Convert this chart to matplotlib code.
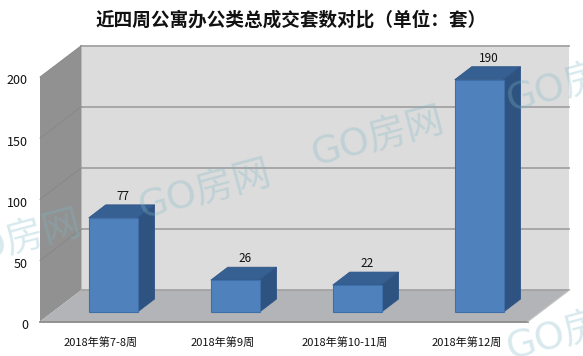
import matplotlib
matplotlib.use("Agg")
import matplotlib.pyplot as plt
from matplotlib.transforms import ScaledTranslation

plt.rcParams['font.family'] = ['Noto Sans CJK SC', 'DejaVu Sans']

title = '近四周公寓办公类总成交套数对比（单位：套）'
categories = ['2018年第7-8周', '2018年第9周', '2018年第10-11周', '2018年第12周']
values = [77, 26, 22, 190]
yticks = [0, 50, 100, 150, 200]

# oblique depth of the box and of the bars, in data units (category, value)
wall_dx, wall_dy = 0.34, 25.76
bar_dx, bar_dy = 0.139, 10.6
bar_shift_x, bar_shift_y = 0.1, 7.8
bar_width = 0.40

fig = plt.figure(figsize=(5.83, 3.56), dpi=100)
ax = fig.add_axes([40/583, (356-321.5)/356, 488/583, 244.5/356])
ax.set_xlim(0, len(categories))
ax.set_ylim(0, yticks[-1])
for s in ax.spines.values():
    s.set_visible(False)

xmax = len(categories)
ymax = yticks[-1]

# box: back wall, side wall, floor
ax.fill([wall_dx, xmax+wall_dx, xmax+wall_dx, wall_dx],
        [wall_dy, wall_dy, ymax+wall_dy, ymax+wall_dy],
        color='#dcdcdc', lw=0, clip_on=False, zorder=1)
ax.fill([0, wall_dx, wall_dx, 0], [0, wall_dy, ymax+wall_dy, ymax],
        color='#919191', lw=0, clip_on=False, zorder=1)
ax.fill([0, xmax, xmax+wall_dx, wall_dx], [0, 0, wall_dy, wall_dy],
        color='#b2b4b8', lw=0, clip_on=False, zorder=1)

# grid lines on the walls
for t in yticks:
    ax.plot([wall_dx, xmax+wall_dx], [t+wall_dy, t+wall_dy], color='#a3a3a3',
            lw=1.3, clip_on=False, zorder=2)
    if t > 0:
        ax.plot([0, wall_dx], [t, t+wall_dy], color='#868686', lw=0.6,
                clip_on=False, zorder=2)
ax.plot([0, xmax], [0, 0], color='#8a8a8a', lw=1.3, clip_on=False, zorder=2)
ax.plot([xmax, xmax+wall_dx], [0, wall_dy], color='#c4c4c4', lw=0.8,
        clip_on=False, zorder=2)

# bars
for i, v in enumerate(values):
    x0 = i + 0.5 + bar_shift_x - bar_width/2
    x1 = x0 + bar_width
    y0 = bar_shift_y
    y1 = y0 + v
    ax.fill([x0, x1, x1+bar_dx, x0+bar_dx], [y1, y1, y1+bar_dy, y1+bar_dy],
            fc='#376092', ec='#2f5688', lw=0.6, clip_on=False, zorder=3)
    ax.fill([x1, x1+bar_dx, x1+bar_dx, x1], [y0, y0+bar_dy, y1+bar_dy, y1],
            fc='#2f5380', ec='#2f5688', lw=0.6, clip_on=False, zorder=3)
    ax.fill([x0, x1, x1, x0], [y0, y0, y1, y1],
            fc='#4f81bd', ec='#3f6fa8', lw=0.8, clip_on=False, zorder=4)
    ax.text((x0+x1+bar_dx)/2+0.008, y1+bar_dy+1.7, str(v), ha='center', va='bottom',
            fontsize=8.5, color='#111111', zorder=5)

ax.set_xticks([i+0.5 for i in range(len(categories))], categories)
ax.set_yticks(yticks)
ax.tick_params(axis='both', length=0, labelsize=8, colors='#111111')
ax.tick_params(axis='y', pad=8.7, labelsize=9)
ax.tick_params(axis='x', pad=11)

# the y labels sit a little lower than the grid
down = ScaledTranslation(0, -2.5/100, fig.dpi_scale_trans)
for lab in ax.get_yticklabels():
    lab.set_transform(lab.get_transform() + down)

fig.text(291.5/583, 1-20/356, title, ha='center', va='center', fontsize=13.4,
         fontweight='bold', color='#111111')

# watermarks
for wx, wy in [(378, 137), (205, 190), (15, 240), (573, 83), (573, 331)]:
    fig.text(wx/583, 1-wy/356, 'GO房网', ha='center', va='center', rotation=15,
             family=['DejaVu Sans', 'Noto Sans CJK SC'],
             fontsize=27.5, color='#7fb8c8', alpha=0.3, zorder=10)

fig.savefig('out.png', dpi=100)
